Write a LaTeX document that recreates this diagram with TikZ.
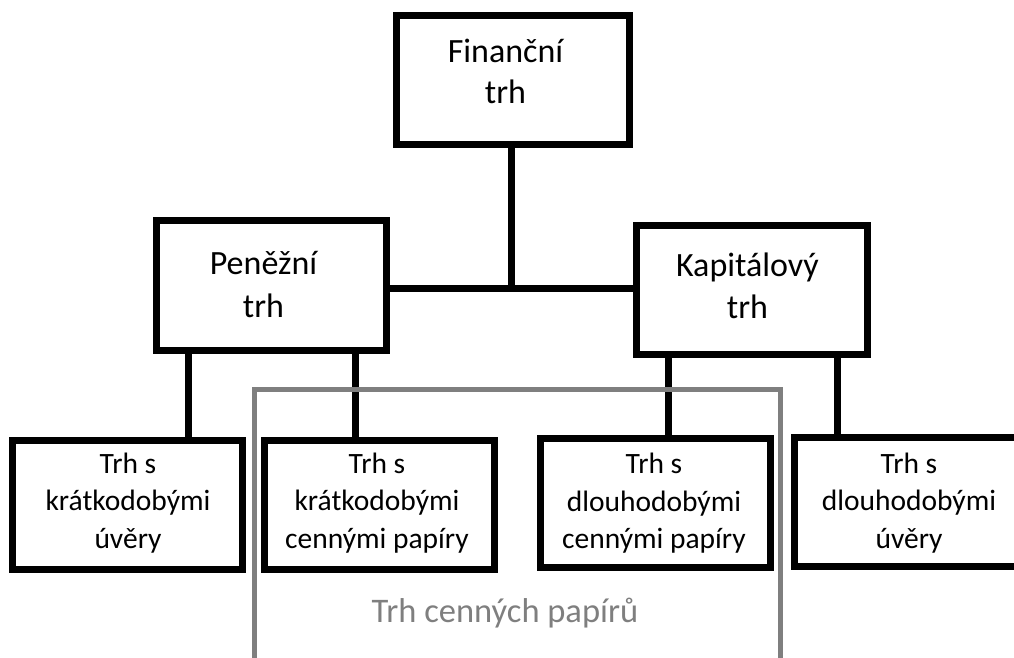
\documentclass[tikz,border=0pt]{standalone}
\usepackage{fontspec}
\setmainfont{Carlito}
\definecolor{grayline}{HTML}{7F7F7F}
\definecolor{graytext}{HTML}{7F7F7F}
\begin{document}
\begin{tikzpicture}[x=1pt,y=-1pt,
  box/.style={draw=black,line width=7pt,fill=white,minimum width=#1,minimum height=129pt,inner sep=0pt},
  bigtext/.style={font=\fontsize{34}{41}\selectfont,inner sep=0pt,anchor=base},
  smalltext/.style={font=\fontsize{29.5}{37.5}\selectfont,inner sep=0pt,anchor=base},
  conn/.style={draw=black,line width=7pt},
  grayframe/.style={draw=grayline,line width=5pt},
  graylabel/.style={text=graytext,font=\fontsize{34.5}{40}\selectfont,inner sep=0pt,anchor=base}]
\useasboundingbox (0,0) rectangle (1014,657);
\clip (0,0) rectangle (1014,657);
% coordinates for connector columns
\coordinate (c1) at (188,400);
\coordinate (c2) at (355,400);
\coordinate (c3) at (668,400);
\coordinate (c4) at (837,400);
\coordinate (junc) at (511,288);
% boxes
\node[box=233pt] (top) at (512.5,79.5) {};
\node[box=230pt,minimum height=130pt] (pen) at (271,285) {};
\node[box=231pt] (kap) at (751.5,289.5) {};
\node[box=230pt] (b1) at (127,504.5) {};
\node[box=230pt] (b2) at (379,504.5) {};
\node[box=230pt] (b3) at (655,502.5) {};
\node[box=230pt] (b4) at (909,502) {};
% texts
\node[bigtext] (t1) at (505.5,62) {Finanční};
\node[bigtext] (t2) at (505.5,103) {trh};
\node[bigtext] (p1) at (263.5,274) {Peněžní};
\node[bigtext] (p2) at (263.5,317) {trh};
\node[bigtext] (k1) at (747.5,276) {Kapitálový};
\node[bigtext] (k2) at (747.5,318) {trh};
\node[smalltext] (b1a) at (128,473) {Trh s};
\node[smalltext] (b1b) at (128,510) {krátkodobými};
\node[smalltext] (b1c) at (128,548) {úvěry};
\node[smalltext] (b2a) at (377,473) {Trh s};
\node[smalltext] (b2b) at (377,510) {krátkodobými};
\node[smalltext] (b2c) at (377,548) {cennými papíry};
\node[smalltext] (b3a) at (654,473) {Trh s};
\node[smalltext] (b3b) at (654,511) {dlouhodobými};
\node[smalltext] (b3c) at (654,548) {cennými papíry};
\node[smalltext] (b4a) at (909,473) {Trh s};
\node[smalltext] (b4b) at (909,510) {dlouhodobými};
\node[smalltext] (b4c) at (909,548) {úvěry};
% connectors between nodes
\draw[conn] (top.south -| junc) -- (junc);
\draw[conn] (pen.east |- junc) -- (kap.west |- junc);
\draw[conn] (pen.south -| c1) -- (b1.north -| c1);
\draw[conn] (pen.south -| c2) -- (b2.north -| c2);
\draw[conn] (kap.south -| c3) -- (b3.north -| c3);
\draw[conn] (kap.south -| c4) -- (b4.north -| c4);
% gray frame of securities market
\coordinate (gl) at (254.5,680);
\coordinate (gr) at (780,680);
\draw[grayframe] (gl) -- (254.5,389) -- (780,389) -- (gr);
\node[graylabel] (glabel) at (505,622) {Trh cenných papírů};
\end{tikzpicture}
\end{document}
